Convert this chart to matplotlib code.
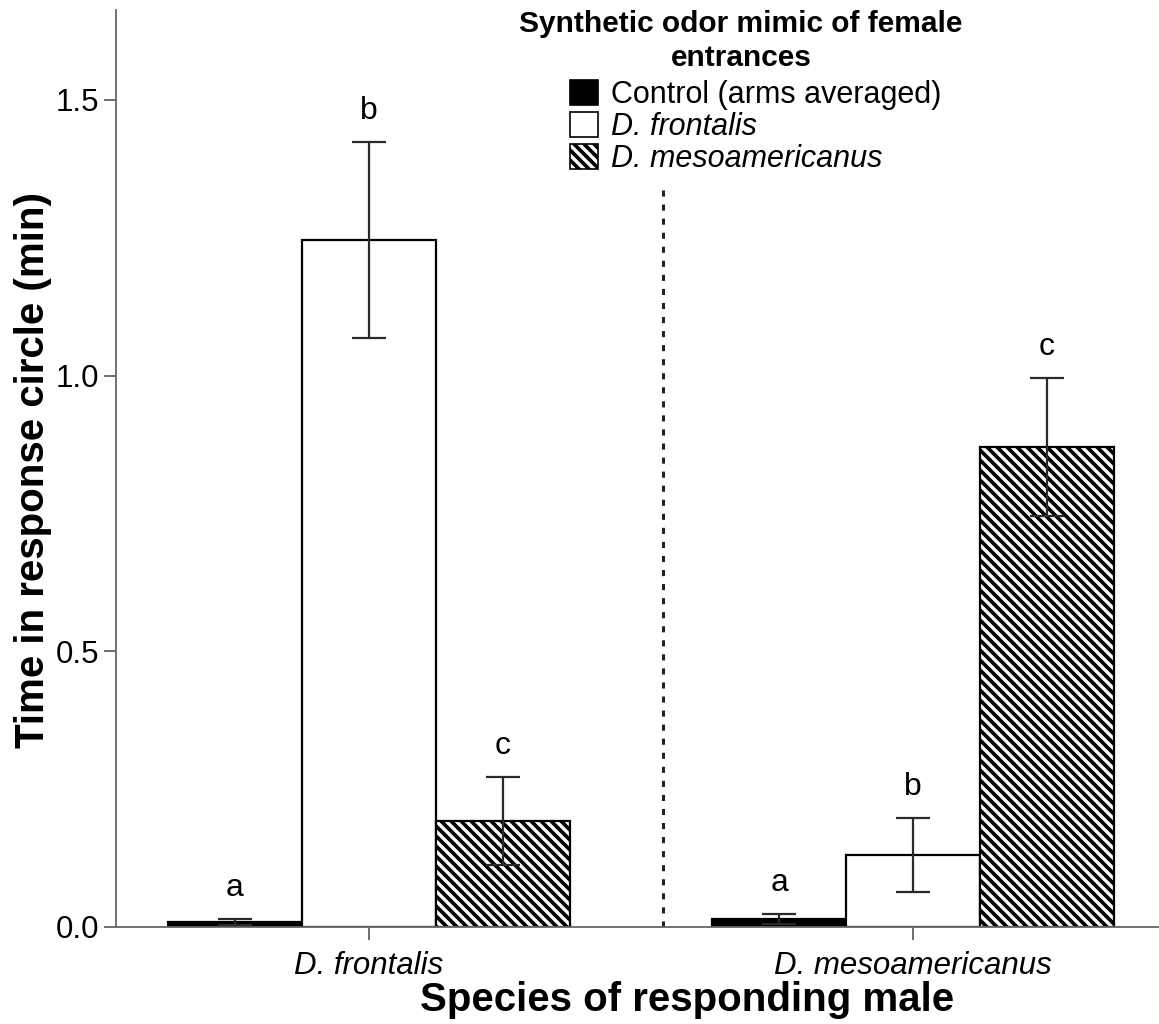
import numpy as np
import matplotlib
matplotlib.use("Agg")
import matplotlib.pyplot as plt
import matplotlib.transforms as mtransforms
from matplotlib.patches import Patch

# drawn at 120 dpi so the hatch spacing matches; k converts sizes chosen at 100 dpi
DPI = 120
k = 100 / DPI

plt.rcParams['font.family'] = ['Liberation Sans', 'DejaVu Sans']
plt.rcParams['hatch.linewidth'] = 2.2

# responding male species (x groups)
groups = ["D. frontalis", "D. mesoamericanus"]
# odor treatments (bars within each group)
treatments = ["Control (arms averaged)", "D. frontalis", "D. mesoamericanus"]

# mean time in response circle (min), per treatment, one value per group
means = {
    "Control (arms averaged)": [0.009, 0.015],
    "D. frontalis": [1.246, 0.131],
    "D. mesoamericanus": [0.192, 0.870],
}
# standard errors
errors = {
    "Control (arms averaged)": [0.005, 0.009],
    "D. frontalis": [0.178, 0.067],
    "D. mesoamericanus": [0.080, 0.125],
}
# significance letters
letters = {
    "Control (arms averaged)": ["a", "a"],
    "D. frontalis": ["b", "b"],
    "D. mesoamericanus": ["c", "c"],
}

fills = ["black", "white", "white"]
hatches = [None, None, "\\\\\\\\"]
label_styles = ["normal", "italic", "italic"]

fig = plt.figure(figsize=(1159 / DPI, 1024 / DPI), dpi=DPI)
ax = fig.add_axes([116 / 1159, 97 / 1024, 1 - 116 / 1159, 917 / 1024])

x = np.arange(len(groups))
w = 0.2463
handles = []
for i, t in enumerate(treatments):
    pos = x + (i - 1) * w
    ax.bar(pos, means[t], width=w, color=fills[i], edgecolor="black",
           linewidth=1.6 * k, hatch=hatches[i], zorder=2)
    ax.errorbar(pos, means[t], yerr=errors[t], fmt="none", ecolor="#2a2a2a",
                elinewidth=1.6 * k, capsize=12.5 * k, capthick=1.6 * k, zorder=3)
    for p, m, e, l in zip(pos, means[t], errors[t], letters[t]):
        ax.annotate(l, (p, m + e), xytext=(0, 22.5 * k), textcoords="offset points",
                    ha="center", va="center", fontsize=23 * k)
    handles.append(Patch(facecolor=fills[i], edgecolor="black", linewidth=1.2 * k,
                         hatch=hatches[i], label=t))

# dashed divider between the two groups
ax.vlines(0.54, 0, 1.342, colors="#222222", linewidth=2.2 * k,
          linestyles=(0, (2.0, 2.6)), zorder=1)

ax.set_xlim(-0.465, 1.452)
ax.set_ylim(0, 1.663)
ax.set_yticks([0.0, 0.5, 1.0, 1.5])
ax.set_yticklabels(["0.0", "0.5", "1.0", "1.5"])
ax.set_xticks(x)
ax.set_xticklabels(groups, style="italic")
for lab, dx in zip(ax.get_xticklabels(), [-19, 23]):
    lab.set_transform(lab.get_transform() +
                      mtransforms.ScaledTranslation(dx / DPI, 0, fig.dpi_scale_trans))

ax.tick_params(axis="both", labelsize=22.5 * k, length=9 * k, width=1.2 * k,
               color="#555555", pad=3 * k)
ax.tick_params(axis="x", pad=8 * k)
for s in ["top", "right"]:
    ax.spines[s].set_visible(False)
for s in ["left", "bottom"]:
    ax.spines[s].set_color("#666666")
    ax.spines[s].set_linewidth(1.3 * k)

fig.text(33 / 1159, 1 - 470 / 1024, "Time in response circle (min)", rotation=90,
         ha="center", va="center", fontsize=29 * k, fontweight="bold")
fig.text(687 / 1159, 1 - 1000 / 1024, "Species of responding male",
         ha="center", va="center", fontsize=29 * k, fontweight="bold")

# legend title, centred over the entries (baseline of the last line)
fig.text(741 / 1159, 1 - 66 / 1024, "Synthetic odor mimic of female\nentrances",
         ha="center", va="baseline", multialignment="center", linespacing=1.28,
         fontsize=21.5 * k, fontweight="bold")

leg = ax.legend(handles=handles, loc="upper left",
                bbox_to_anchor=(570 / 1159, 1 - 80 / 1024),
                bbox_transform=fig.transFigure, frameon=False,
                fontsize=22 * k, handlelength=0.9, handleheight=0.9,
                handletextpad=0.45, labelspacing=0.05, borderpad=0,
                borderaxespad=0)
for txt, st in zip(leg.get_texts(), label_styles):
    txt.set_style(st)

fig.savefig("out.png", dpi=DPI)
